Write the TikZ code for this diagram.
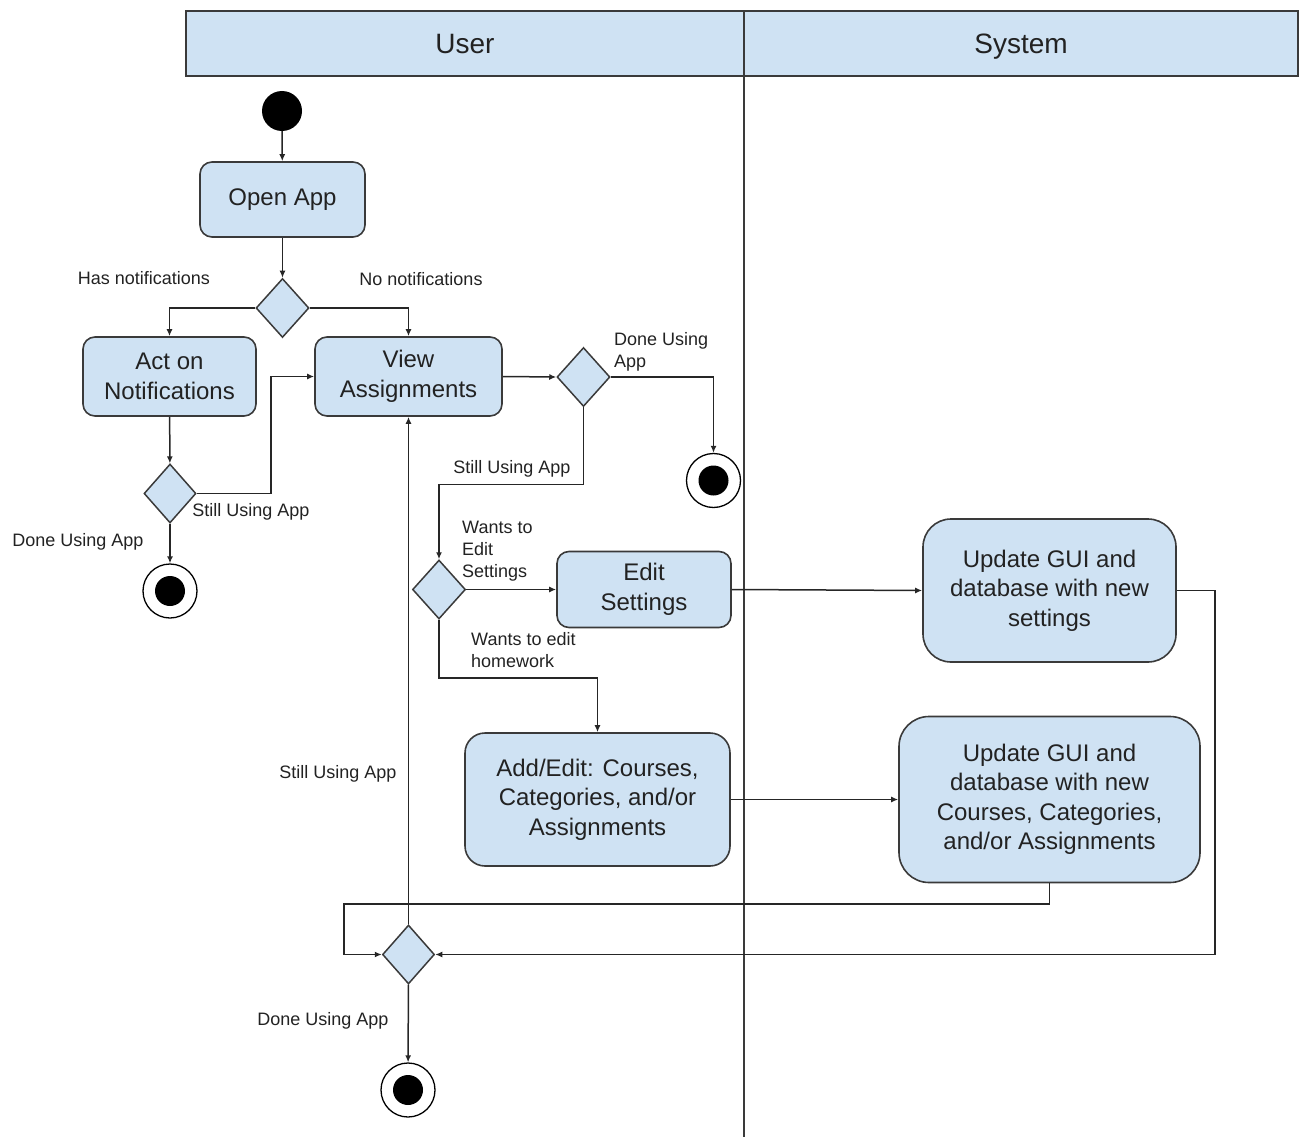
\documentclass[tikz,border=0pt]{standalone}
\usepackage{fontspec}
\setmainfont{Liberation Sans}
\usetikzlibrary{shapes.geometric,arrows.meta}
\definecolor{boxfill}{HTML}{CFE2F3}
\definecolor{edgegray}{HTML}{3A3A3A}
\definecolor{ink}{HTML}{222222}

\begin{document}
\begin{tikzpicture}[x=1pt,y=-1pt,
  lanehead/.style={draw=edgegray, fill=boxfill, line width=1.5pt},
  lanetitle/.style={font=\fontsize{28}{32}\selectfont, text=ink, inner sep=0pt, anchor=base},
  activity/.style={draw=edgegray, fill=boxfill, line width=1.6pt, rounded corners=12pt,
    align=center, inner sep=0pt, text=ink, font=\fontsize{24}{29.5}\selectfont},
  decision/.style={diamond, draw=edgegray, fill=boxfill, line width=1.5pt, inner sep=0pt,
    minimum width=53pt, minimum height=59pt},
  initial/.style={circle, fill=black, minimum size=40pt, inner sep=0pt},
  final/.style={circle, draw=black, fill=white, line width=1.3pt, minimum size=54pt, inner sep=0pt,
    path picture={\fill[black] (path picture bounding box.center) circle[radius=15pt];}},
  flow/.style={draw=black!85, line width=1.5pt, -{Latex[length=7pt,width=6pt]}},
  guard/.style={font=\fontsize{18}{22}\selectfont, text=ink, inner sep=0pt, align=left},
]
\useasboundingbox (0,0) rectangle (1299,1137);

% swimlane headers and divider
\path[lanehead] (186,11) rectangle (1298,76);
\draw[edgegray, line width=1.5pt] (744,11) -- (744,1137);
\node[lanetitle] (userlane) at (465,54) {User};
\node[lanetitle] (syslane) at (1021,54) {System};

% activities
\node[initial] (start) at (282,111) {};
\node[activity, minimum width=165pt, minimum height=75pt] (open) at (282.5,199.5) {Open App};
\node[decision] (d1) at (282.5,308) {};
\node[activity, minimum width=173pt, minimum height=79pt] (act) at (169.5,376.5) {Act on\\Notifications};
\node[activity, minimum width=187pt, minimum height=79pt] (view) at (408.5,376.5) {View\\Assignments};
\node[decision, minimum width=52pt] (d2) at (170,493.5) {};
\node[final] (fin1) at (170,591) {};
\node[decision] (d3) at (583.5,377) {};
\node[final] (fin2) at (713.5,480.5) {};
\node[decision] (d4) at (439,589.5) {};
\node[activity, minimum width=174pt, minimum height=76pt] (edit) at (644,589.5) {Edit\\Settings};
\node[activity, minimum width=265pt, minimum height=133pt, rounded corners=20pt] (addedit) at (597.5,799.5)
  {Add/Edit: Courses,\\Categories, and/or\\Assignments};
\node[activity, minimum width=253pt, minimum height=143pt, rounded corners=28pt] (upd1) at (1049.5,590.5)
  {Update GUI and\\database with new\\settings};
\node[activity, minimum width=301pt, minimum height=166pt, rounded corners=30pt] (upd2) at (1049.5,799.5)
  {Update GUI and\\database with new\\Courses, Categories,\\and/or Assignments};
\node[decision, minimum width=52pt] (d5) at (408.5,954.5) {};
\node[final] (fin3) at (408,1090) {};

% control flow
\draw[flow] (start) -- (open);
\draw[flow] (open) -- (d1);
\draw[flow] (d1.west) -| (act.north);
\draw[flow] (d1.east) -| (view.north);
\draw[flow] (act) -- (d2);
\draw[flow] (d2.east) -- ++(74,0) |- (view.west);
\draw[flow] (d2) -- (fin1);
\draw[flow] (view.east) -- (d3.west);
\draw[flow] (d3.east) -| (fin2.north);
\draw[flow] (d3.south) -- ++(0,77) -| (d4.north);
\draw[flow] (d4.east) -- (edit.west);
\draw[flow] (d4.south) -- ++(0,58) -| (addedit.north);
\draw[flow] (edit.east) -- (upd1.west);
\draw[flow] (addedit.east) -- (addedit.east -| upd2.west);
\draw[flow] (upd1.east) -- ++(38,0) |- (d5.east);
\draw[flow] (upd2.south) |- (344,904) |- (d5.west);
\draw[flow] (d5.north) -- (view.south);
\draw[flow] (d5) -- (fin3);

% guards
\node[guard] (g1) at (144,278) {Has notifications};
\node[guard] (g2) at (421,279) {No notifications};
\node[guard] (g3) at (251,512) {Still Using App};
\node[guard] (g4) at (78,542) {Done Using App};
\node[guard, anchor=west] (g5) at (614,352) {Done Using\\App};
\node[guard] (g6) at (512,469) {Still Using App};
\node[guard, anchor=west] (g7) at (462,551) {Wants to\\Edit\\Settings};
\node[guard, anchor=west] (g8) at (471,650) {Wants to edit\\homework};
\node[guard] (g9) at (338,774) {Still Using App};
\node[guard] (g10) at (323,1021) {Done Using App};
\end{tikzpicture}
\end{document}
